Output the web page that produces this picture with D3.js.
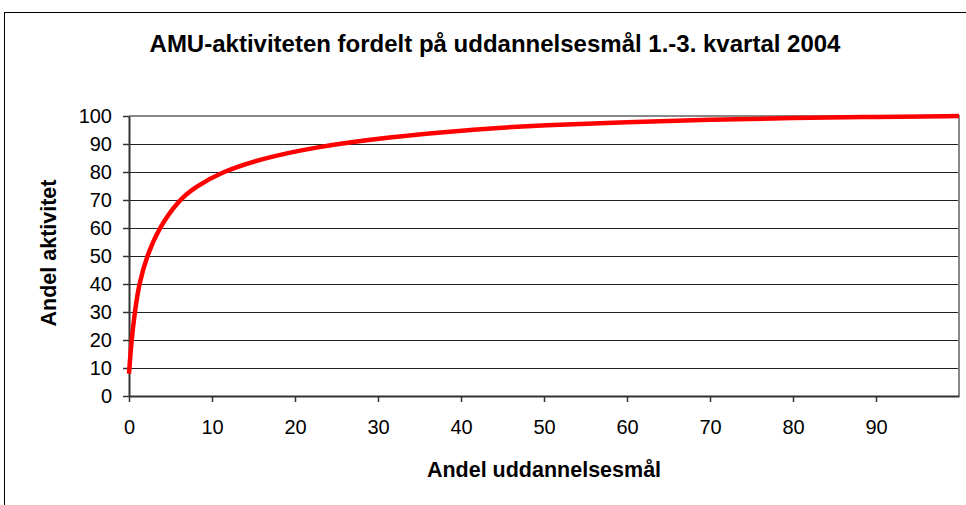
<!DOCTYPE html>
<html>
<head>
<meta charset="utf-8">
<script src="https://cdn.jsdelivr.net/npm/d3@7"></script>
<style>
  body { margin: 0; background: #fff; }
  svg { font-family: "Liberation Sans", Arial, sans-serif; }
</style>
</head>
<body>
<div id="chart"></div>
<script>
// cumulative share of activity vs share of education goals
var andelMaal = [0, 0.3, 0.7, 1.2, 2.15, 3.6, 6.0, 8, 11.1, 16, 22.4, 31, 42, 50, 60, 70, 80, 90, 100];
var andelAktivitet = [8, 20, 30, 40, 50, 60, 70, 74.6, 80, 84.8, 88.9, 92.4, 95.4, 96.7, 97.8, 98.7, 99.3, 99.7, 100];
var xTicks = [0, 10, 20, 30, 40, 50, 60, 70, 80, 90];
var yTicks = [0, 10, 20, 30, 40, 50, 60, 70, 80, 90, 100];

var svgWidth = 966, svgHeight = 505;
var plot = { left: 129, right: 959, top: 116, bottom: 396 };

var svg = d3.select("#chart").append("svg")
    .attr("width", svgWidth)
    .attr("height", svgHeight);

// outer frame
svg.append("rect")
    .attr("x", 4.5).attr("y", 12.5)
    .attr("width", svgWidth).attr("height", svgHeight)
    .style("fill", "none")
    .style("stroke", "#000")
    .style("stroke-width", 1);

var x = d3.scaleLinear().domain([0, 100]).range([plot.left, plot.right]);
var y = d3.scaleLinear().domain([0, 100]).range([plot.bottom, plot.top]);

// gridlines
svg.append("g").selectAll("line")
    .data(yTicks.filter(d => d > 0 && d < 100))
    .enter().append("line")
    .attr("x1", plot.left).attr("x2", plot.right)
    .attr("y1", d => Math.round(y(d)) + 0.5)
    .attr("y2", d => Math.round(y(d)) + 0.5)
    .style("stroke", "#222")
    .style("stroke-width", 1);

// plot border top + right
svg.append("path")
    .attr("d", `M${plot.left},${plot.top}H${plot.right}V${plot.bottom}`)
    .style("fill", "none")
    .style("stroke", "#888")
    .style("stroke-width", 2);

// axes
var bottomAxis = d3.axisBottom(x).tickValues(xTicks).tickSize(6).tickSizeOuter(0).tickPadding(18);
var leftAxis = d3.axisLeft(y).tickValues(yTicks).tickSize(6).tickSizeOuter(0).tickPadding(11);

var xAxis = svg.append("g")
    .attr("transform", `translate(0, ${plot.bottom})`)
    .call(bottomAxis);
var yAxis = svg.append("g")
    .attr("transform", `translate(${plot.left}, 0)`)
    .call(leftAxis);

[xAxis, yAxis].forEach(function(a) {
  a.select(".domain").style("stroke", "#333").style("stroke-width", 2);
  a.selectAll(".tick line").style("stroke", "#333").style("stroke-width", 1.5);
  a.selectAll("text")
    .style("font-family", "'Liberation Sans', Arial, sans-serif")
    .style("font-size", "20px")
    .style("fill", "#000");
});

// curve
var line = d3.line()
    .x(d => x(d[0]))
    .y(d => y(d[1]))
    .curve(d3.curveBasis);

svg.append("path")
    .datum(andelMaal.map((d, i) => [d, andelAktivitet[i]]))
    .attr("d", line)
    .style("fill", "none")
    .style("stroke", "#ff0000")
    .style("stroke-width", 4.5)
    .style("stroke-linecap", "butt");

// title
svg.append("text")
    .attr("x", 495)
    .attr("y", 52)
    .attr("text-anchor", "middle")
    .style("font-size", "24px")
    .style("font-weight", "bold")
    .text("AMU-aktiviteten fordelt på uddannelsesmål 1.-3. kvartal 2004");

// axis titles
svg.append("text")
    .attr("x", 544)
    .attr("y", 477)
    .attr("text-anchor", "middle")
    .style("font-size", "21.5px")
    .style("font-weight", "bold")
    .text("Andel uddannelsesmål");

svg.append("text")
    .attr("transform", "translate(56, 253) rotate(-90)")
    .attr("text-anchor", "middle")
    .style("font-size", "21.5px")
    .style("font-weight", "bold")
    .text("Andel aktivitet");
</script>
</body>
</html>
